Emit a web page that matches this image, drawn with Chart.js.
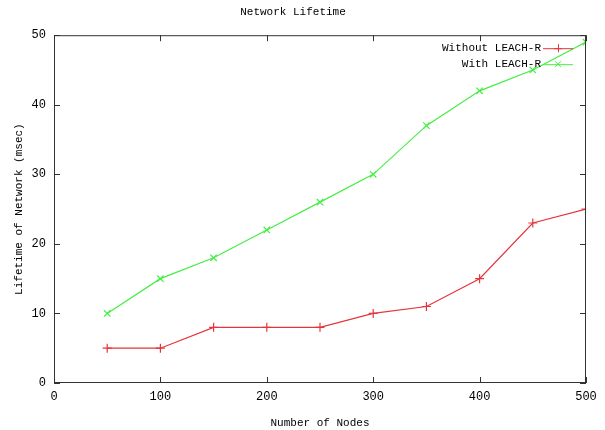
<!DOCTYPE html>
<html>
<head>
<meta charset="utf-8">
<script src="https://cdn.jsdelivr.net/npm/chart.js@4"></script>
<style>
  html, body { margin: 0; padding: 0; background: #fff; }
  #wrap { width: 605px; height: 430px; }
</style>
</head>
<body>
<div id="wrap"><canvas id="lifetimeChart" width="605" height="430"></canvas></div>
<script>
// Chart data
const nodes = [50, 100, 150, 200, 250, 300, 350, 400, 450, 500];
const withoutLeach = [5, 5, 8, 8, 8, 10, 11, 15, 23, 25];
const withLeach = [10, 15, 18, 22, 26, 30, 37, 42, 45, 49];
const xTicks = [0, 100, 200, 300, 400, 500];
const yTicks = [0, 10, 20, 30, 40, 50];

const FONT = "'Liberation Mono', 'DejaVu Sans Mono', monospace";
const RED = '#e6343a';
const GREEN = '#44ee44';

// gnuplot style frame, inward ticks and legend inside the plot
const gnuplotFrame = {
    id: 'gnuplotFrame',
    afterDraw(chart) {
        const ctx = chart.ctx;
        const a = chart.chartArea;
        const xs = chart.scales.x;
        const ys = chart.scales.y;
        ctx.save();
        ctx.strokeStyle = '#333';
        ctx.lineWidth = 1;
        ctx.strokeRect(a.left + 0.5, a.top + 0.5, a.right - a.left - 1, a.bottom - a.top - 1);

        ctx.beginPath();
        xTicks.forEach(v => {
            const px = Math.round(xs.getPixelForValue(v)) + 0.5;
            ctx.moveTo(px, a.bottom);
            ctx.lineTo(px, a.bottom - 6);
            ctx.moveTo(px, a.top);
            ctx.lineTo(px, a.top + 6);
        });
        yTicks.forEach(v => {
            const py = Math.round(ys.getPixelForValue(v)) + 0.5;
            ctx.moveTo(a.left, py);
            ctx.lineTo(a.left + 6, py);
            ctx.moveTo(a.right, py);
            ctx.lineTo(a.right - 6, py);
        });
        ctx.stroke();

        // legend
        ctx.font = '11px ' + FONT;
        ctx.textAlign = 'right';
        ctx.textBaseline = 'middle';
        chart.data.datasets.forEach((ds, i) => {
            const y = a.top + 13 + i * 16;
            const textRight = a.right - 45;
            ctx.fillStyle = '#000';
            ctx.fillText(ds.label, textRight, y);
            ctx.strokeStyle = ds.borderColor;
            ctx.beginPath();
            ctx.moveTo(textRight + 2, y + 0.5);
            ctx.lineTo(textRight + 32, y + 0.5);
            ctx.stroke();
            const cx = textRight + 17;
            ctx.beginPath();
            if (ds.pointStyle === 'cross') {
                ctx.moveTo(cx - 4, y + 0.5); ctx.lineTo(cx + 4, y + 0.5);
                ctx.moveTo(cx + 0.5, y - 4); ctx.lineTo(cx + 0.5, y + 4);
            } else {
                ctx.moveTo(cx - 3, y - 3); ctx.lineTo(cx + 3, y + 3);
                ctx.moveTo(cx + 3, y - 3); ctx.lineTo(cx - 3, y + 3);
            }
            ctx.stroke();
        });
        ctx.restore();
    }
};

new Chart(document.getElementById('lifetimeChart'), {
    type: 'line',
    data: {
        labels: nodes,
        datasets: [{
            label: 'Without LEACH-R',
            data: nodes.map((n, i) => ({ x: n, y: withoutLeach[i] })),
            borderColor: RED,
            backgroundColor: RED,
            borderWidth: 1.2,
            pointStyle: 'cross',
            pointRadius: 4.5,
            pointBorderWidth: 1.2,
            tension: 0
        }, {
            label: 'With LEACH-R',
            data: nodes.map((n, i) => ({ x: n, y: withLeach[i] })),
            borderColor: GREEN,
            backgroundColor: GREEN,
            borderWidth: 1.2,
            pointStyle: 'crossRot',
            pointRadius: 4.5,
            pointBorderWidth: 1.2,
            tension: 0
        }]
    },
    options: {
        responsive: false,
        animation: false,
        layout: { padding: { top: 0, right: 19, left: 0, bottom: 0 } },
        plugins: {
            legend: { display: false },
            tooltip: { enabled: false },
            title: {
                display: true,
                text: 'Network Lifetime',
                color: '#000',
                font: { family: FONT, size: 11, weight: 'normal' },
                padding: { top: 5, bottom: 17 }
            }
        },
        scales: {
            x: {
                type: 'linear',
                min: 0,
                max: 500,
                afterFit: s => { s.height = 47; },
                afterBuildTicks: s => { s.ticks = xTicks.map(v => ({ value: v })); },
                grid: { display: false, drawTicks: false },
                border: { display: false },
                ticks: {
                    color: '#000',
                    padding: 7,
                    font: { family: FONT, size: 12 }
                },
                title: {
                    display: true,
                    text: 'Number of Nodes',
                    color: '#000',
                    padding: { top: 4, bottom: 0 },
                    font: { family: FONT, size: 11 }
                }
            },
            y: {
                min: 0,
                max: 50,
                afterFit: s => { s.width = 54; },
                afterBuildTicks: s => { s.ticks = yTicks.map(v => ({ value: v })); },
                grid: { display: false, drawTicks: false },
                border: { display: false },
                ticks: {
                    color: '#000',
                    padding: 8,
                    font: { family: FONT, size: 12 }
                },
                title: {
                    display: true,
                    text: 'Lifetime of Network (msec)',
                    color: '#000',
                    padding: { top: 12, bottom: 0 },
                    font: { family: FONT, size: 11 }
                }
            }
        }
    },
    plugins: [gnuplotFrame]
});
</script>
</body>
</html>
